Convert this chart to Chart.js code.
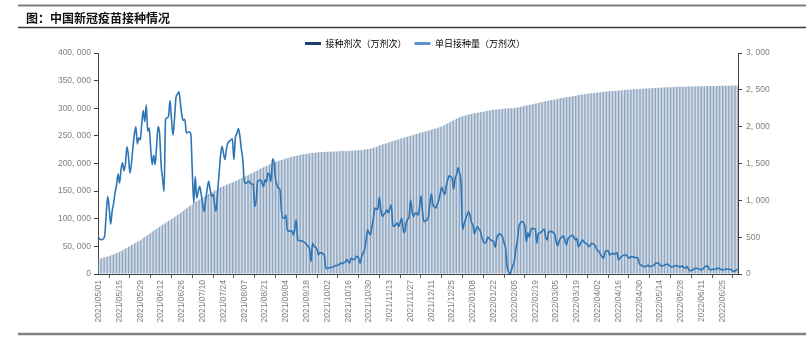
<!DOCTYPE html>
<html>
<head>
<meta charset="utf-8">
<script src="https://cdn.jsdelivr.net/npm/chart.js@4"></script>
<style>
  body { margin: 0; background: #fff; }
  #chart { display: block; }
</style>
</head>
<body>
<canvas id="chart" width="806" height="338"></canvas>
<script>
const chart_title = '图：中国新冠疫苗接种情况';
const series_names = ['接种剂次（万剂次）', '单日接种量（万剂次）'];
const start_date = '2021-05-01';
const day_count = 431;
const label_every = 14;

// cumulative doses, 万剂次 (left axis)
const total_doses = [
    27000, 27700, 28500, 29300, 30100, 30900, 31700, 32600, 33500, 34500,
    35500, 36500, 37700, 39000, 40400, 41800, 43200, 44700, 46200, 47700,
    49200, 50700, 52200, 53700, 55200, 56700, 58200, 59700, 61200, 63000,
    64900, 66800, 68700, 70600, 72500, 74400, 76300, 78200, 80100, 82000,
    83900, 85800, 87600, 89300, 91000, 92700, 94400, 96100, 97800, 99500,
    101200, 102900, 104700, 106600, 108600, 110600, 112600, 114600, 116600, 118600,
    120600, 122600, 124500, 126400, 128300, 130100, 131800, 133500, 135100, 136700,
    138300, 139900, 141500, 143100, 144700, 146300, 147900, 149500, 151000, 152500,
    154000, 155400, 156800, 158000, 159200, 160300, 161400, 162500, 163600, 164700,
    165800, 166900, 168000, 169300, 170600, 171900, 173200, 174500, 175800, 177100,
    178400, 179700, 181000, 182300, 183600, 184900, 186300, 187700, 189100, 190500,
    191800, 193100, 194400, 195600, 196800, 198000, 199200, 200300, 201400, 202500,
    203600, 204600, 205600, 206500, 207400, 208300, 209100, 209900, 210600, 211300,
    212000, 212700, 213400, 214000, 214600, 215200, 215800, 216300, 216800, 217200,
    217600, 218000, 218400, 218800, 219100, 219400, 219700, 220000, 220300, 220500,
    220700, 220900, 221000, 221100, 221200, 221300, 221400, 221500, 221600, 221700,
    221800, 221900, 222100, 222300, 222400, 222500, 222600, 222700, 222800, 222900,
    223000, 223200, 223400, 223600, 223800, 224000, 224200, 224500, 224800, 225200,
    225600, 226000, 226400, 226900, 227600, 228400, 229300, 230300, 231300, 232400,
    233500, 234400, 235300, 236200, 237100, 238000, 238900, 239800, 240600, 241400,
    242200, 243000, 243800, 244600, 245400, 246200, 247000, 247800, 248600, 249400,
    250300, 251200, 252000, 252800, 253600, 254400, 255200, 256000, 256700, 257400,
    258100, 258800, 259500, 260300, 261100, 261900, 262700, 263500, 264300, 265200,
    266200, 267300, 268500, 269800, 271200, 272700, 274200, 275700, 277100, 278500,
    279800, 281100, 282400, 283700, 284900, 285700, 286400, 287100, 287800, 288500,
    289100, 289700, 290300, 290800, 291300, 291800, 292300, 292800, 293300, 293800,
    294300, 294800, 295300, 295800, 296300, 296800, 297200, 297500, 297800, 298100,
    298400, 298700, 299000, 299300, 299500, 299700, 299800, 299900, 300000, 300200,
    300500, 300900, 301400, 302000, 302600, 303200, 303800, 304400, 304900, 305500,
    306100, 306700, 307300, 307900, 308500, 309000, 309600, 310200, 310800, 311400,
    312000, 312600, 313100, 313700, 314300, 314900, 315500, 316000, 316500, 317000,
    317500, 318000, 318500, 319000, 319400, 319800, 320300, 320800, 321300, 321800,
    322300, 322800, 323300, 323800, 324300, 324700, 325100, 325500, 325900, 326300,
    326700, 327000, 327300, 327600, 327900, 328200, 328500, 328800, 329100, 329400,
    329700, 330000, 330300, 330600, 330800, 331000, 331200, 331400, 331600, 331800,
    332000, 332250, 332500, 332750, 333000, 333200, 333400, 333600, 333800, 334000,
    334200, 334400, 334600, 334800, 335000, 335200, 335400, 335550, 335700, 335850,
    336000, 336150, 336300, 336450, 336600, 336750, 336900, 337050, 337200, 337350,
    337500, 337650, 337800, 337950, 338100, 338200, 338300, 338400, 338500, 338600,
    338700, 338800, 338900, 338950, 339000, 339100, 339150, 339200, 339300, 339350,
    339400, 339500, 339550, 339600, 339700, 339750, 339800, 339900, 340000, 340050,
    340100, 340150, 340200, 340300, 340350, 340400, 340450, 340500, 340550, 340600,
    340650, 340700, 340750, 340800, 340850, 340900, 340950, 341000, 341050, 341100,
    341200
];

// daily doses, 万剂次 (right axis)
const daily_doses = [
    490, 470, 465, 477, 520, 800, 1053, 900, 677, 850,
    960, 1100, 1212, 1358, 1235, 1420, 1508, 1400, 1500, 1726,
    1600, 1371, 1500, 1712, 1900, 1998, 1766, 1848, 1820, 2050,
    2220, 2066, 2292, 1938, 1980, 1700, 1485, 1611, 1485, 1750,
    2000, 1900, 1485, 1300, 1121, 2097, 2120, 2143, 2356, 2100,
    1884, 2100, 2393, 2440, 2474, 2320, 2150, 2084, 2100, 1916,
    1925, 1930, 1900, 1400, 963, 1325, 1030, 1120, 1189, 1080,
    950, 849, 1000, 1150, 1257, 1150, 1053, 1080, 950, 849,
    1100, 1350, 1600, 1734, 1640, 1553, 1700, 1780, 1800, 1820,
    1835, 1553, 1850, 1902, 1975, 1880, 1700, 1553, 1257, 1230,
    1245, 1257, 1235, 1220, 1220, 917, 1000, 1257, 1270, 1280,
    1230, 1185, 1280, 1250, 1371, 1350, 1257, 1562, 1517, 1300,
    1212, 1160, 1160, 872, 760, 758, 800, 600, 578, 585,
    585, 531, 600, 735, 463, 455, 450, 445, 440, 420,
    400, 372, 340, 168, 418, 375, 360, 340, 259, 290,
    285, 275, 240, 78, 78, 82, 86, 90, 100, 110,
    115, 120, 130, 150, 140, 155, 160, 195, 170, 150,
    215, 200, 195, 220, 240, 215, 145, 230, 285, 330,
    450, 600, 560, 530, 650, 758, 895, 880, 880, 1044,
    870, 780, 810, 830, 870, 830, 880, 940, 667, 645,
    670, 690, 645, 700, 758, 600, 563, 690, 740, 780,
    1008, 850, 780, 826, 830, 800, 900, 1062, 850, 712,
    720, 735, 780, 950, 1090, 940, 910, 895, 950, 1000,
    1100, 1176, 1120, 1080, 1190, 1280, 1335, 1320, 1300, 1153,
    1300, 1350, 1440, 1371, 1230, 600, 680, 735, 800, 849,
    800, 700, 667, 545, 600, 645, 610, 580, 500, 440,
    420, 440, 500, 480, 463, 450, 440, 363, 480, 530,
    545, 530, 500, 420, 350, 100, 30, 0, 60, 120,
    190, 350, 460, 645, 690, 712, 700, 645, 440, 560,
    500, 600, 622, 615, 610, 418, 545, 560, 570, 590,
    610, 500, 463, 570, 575, 580, 560, 545, 450, 380,
    440, 485, 500, 520, 450, 395, 480, 500, 515, 530,
    500, 463, 480, 372, 400, 440, 460, 430, 418, 400,
    372, 390, 418, 405, 395, 350, 320, 304, 260, 236,
    215, 304, 315, 320, 258, 275, 280, 270, 280, 290,
    190, 215, 236, 250, 258, 258, 240, 215, 230, 236,
    230, 225, 222, 220, 145, 125, 110, 105, 100, 110,
    120, 100, 105, 115, 120, 150, 148, 145, 120, 110,
    115, 120, 130, 135, 120, 105, 95, 105, 110, 115,
    110, 95, 100, 110, 90, 80, 100, 70, 45, 50,
    55, 70, 80, 75, 70, 65, 55, 75, 95, 105,
    110, 70, 55, 65, 65, 65, 70, 80, 75, 65,
    55, 60, 65, 65, 65, 65, 55, 45, 35, 50,
    65
];

const left_axis = { min: 0, max: 400000, step: 50000 };
const right_axis = { min: 0, max: 3000, step: 500 };

// daily date labels yyyy/mm/dd
const dates = [];
const d0 = new Date(start_date + 'T00:00:00Z');
for (let i = 0; i < day_count; i++) {
    const d = new Date(d0.getTime() + i * 86400000);
    const mm = String(d.getUTCMonth() + 1).padStart(2, '0');
    const dd = String(d.getUTCDate()).padStart(2, '0');
    dates.push(d.getUTCFullYear() + '/' + mm + '/' + dd);
}

const num_font = "'Liberation Sans', 'Noto Sans CJK SC', sans-serif";
const cjk_font = "'Noto Sans CJK SC', sans-serif";
const fmt = v => v.toLocaleString('en-US').replace(/,/g, ', ');

// header, rules around the chart
const frame_plugin = {
    id: 'frame',
    beforeInit(chart) {
        // keep the legend row short so the plot starts where the original does
        const fit = chart.legend.fit;
        chart.legend.fit = function () {
            fit.call(this);
            this.height = 22;
        };
    },
    beforeDraw(chart) {
        const ctx = chart.ctx;
        ctx.save();
        ctx.fillStyle = '#fff';
        ctx.fillRect(0, 0, chart.width, chart.height);
        ctx.strokeStyle = '#808080';
        ctx.lineWidth = 2;
        ctx.beginPath(); ctx.moveTo(18, 5.5); ctx.lineTo(806, 5.5); ctx.stroke();
        ctx.strokeStyle = '#3a3a3a';
        ctx.lineWidth = 1.6;
        ctx.beginPath(); ctx.moveTo(18, 27.5); ctx.lineTo(806, 27.5); ctx.stroke();
        ctx.strokeStyle = '#808080';
        ctx.lineWidth = 2.5;
        ctx.beginPath(); ctx.moveTo(18, 334); ctx.lineTo(806, 334); ctx.stroke();
        ctx.fillStyle = '#111';
        ctx.font = "bold 12px " + cjk_font;
        ctx.textBaseline = 'middle';
        ctx.fillText(chart_title, 26, 18);
        ctx.restore();
    }
};

new Chart(document.getElementById('chart'), {
    data: {
        labels: dates,
        datasets: [{
            type: 'bar',
            label: series_names[0],
            data: total_doses,
            yAxisID: 'y',
            backgroundColor: 'rgb(118,146,178)',
            borderWidth: 0,
            barPercentage: 0.55,
            categoryPercentage: 1.0,
            order: 2
        }, {
            type: 'line',
            label: series_names[1],
            data: daily_doses,
            yAxisID: 'y1',
            borderColor: '#2e75b6',
            borderWidth: 1.6,
            pointRadius: 0,
            cubicInterpolationMode: 'monotone',
            fill: false,
            order: 1
        }]
    },
    options: {
        responsive: false,
        animation: false,
        layout: { padding: { top: 31, left: 24, right: 0, bottom: 0 } },
        plugins: {
            tooltip: { enabled: false },
            legend: {
                position: 'top',
                labels: {
                    font: { family: cjk_font, size: 9 },
                    color: '#595959',
                    boxWidth: 16,
                    boxHeight: 3,
                    padding: 8,
                    generateLabels: chart => [
                        { text: series_names[0], fillStyle: '#1f3d6e', strokeStyle: '#1f3d6e', lineWidth: 0, datasetIndex: 0 },
                        { text: series_names[1], fillStyle: '#5b95cf', strokeStyle: '#5b95cf', lineWidth: 0, datasetIndex: 1 }
                    ]
                }
            }
        },
        scales: {
            x: {
                type: 'category',
                offset: true,
                border: { display: true, color: '#404040', width: 1 },
                grid: { display: true, drawOnChartArea: false, drawTicks: true, tickLength: 4, color: '#606060' },
                ticks: {
                    autoSkip: false,
                    minRotation: 90,
                    maxRotation: 90,
                    padding: 2,
                    color: '#808080',
                    font: { family: num_font, size: 8.5 },
                    callback: (v, i) => (i % label_every === 0 ? dates[i] : null)
                },
                afterFit: s => { s.height = 64; }
            },
            y: {
                position: 'left',
                min: left_axis.min,
                max: left_axis.max,
                border: { display: true, color: '#404040', width: 1 },
                grid: { display: true, drawOnChartArea: false, drawTicks: true, tickLength: 4, color: '#404040' },
                ticks: {
                    stepSize: left_axis.step,
                    padding: 3,
                    color: '#808080',
                    font: { family: num_font, size: 8.5 },
                    callback: v => fmt(v)
                },
                afterFit: s => { s.width = 74; }
            },
            y1: {
                position: 'right',
                min: right_axis.min,
                max: right_axis.max,
                border: { display: true, color: '#404040', width: 1 },
                grid: { display: true, drawOnChartArea: false, drawTicks: true, tickLength: 4, color: '#404040' },
                ticks: {
                    stepSize: right_axis.step,
                    padding: 4,
                    color: '#808080',
                    font: { family: num_font, size: 8.5 },
                    callback: v => fmt(v)
                },
                afterFit: s => { s.width = 68; }
            }
        }
    },
    plugins: [frame_plugin]
});
</script>
</body>
</html>
